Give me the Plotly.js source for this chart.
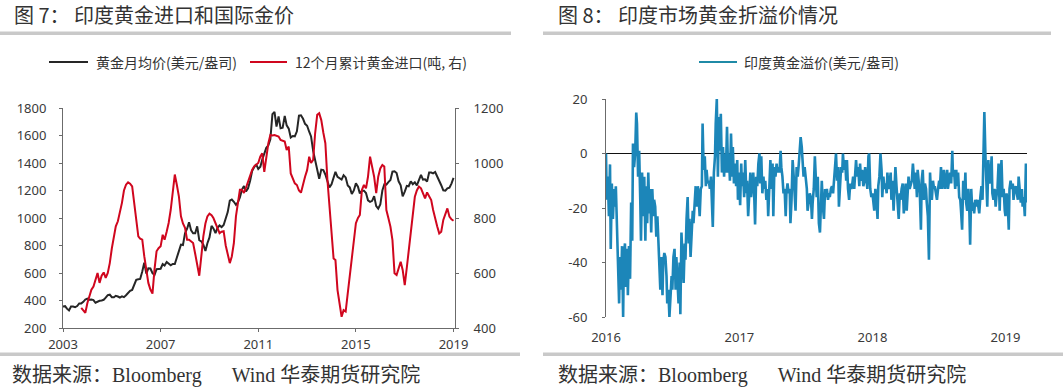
<!DOCTYPE html>
<html><head><meta charset="utf-8">
<script src="https://cdn.plot.ly/plotly-3.0.1.min.js"></script>
<style>html,body{margin:0;padding:0;background:#fff}#chart{width:1063px;height:392px}</style>
</head><body><div id="chart"></div>
<script>
// ---------- data: Fig.7 ----------
const goldStartMonth = '2003-01';
const goldMonthlyAvg = [
356.9,359.0,340.6,328.2,355.7,356.4,351.0,359.8,378.9,378.9,389.9,407.6,
414.0,405.3,406.7,403.3,383.8,392.4,398.1,400.5,405.3,420.5,439.4,442.1,
424.0,423.4,434.2,429.2,421.9,430.7,424.5,437.9,456.0,469.9,476.7,509.8,
549.9,555.0,557.1,610.6,675.4,596.2,633.7,632.6,598.2,585.8,627.8,629.8,
631.2,664.8,654.9,679.4,666.9,655.5,665.3,665.4,712.7,754.6,806.3,803.2,
889.6,922.3,968.4,909.7,888.7,889.5,939.8,839.0,829.9,806.6,760.9,816.1,
858.7,943.2,924.3,890.2,928.6,945.7,934.2,949.4,996.6,1043.2,1127.0,1134.7,
1118.0,1095.4,1113.3,1148.7,1205.4,1232.9,1192.9,1215.8,1271.0,1342.0,1369.9,1390.6,
1356.4,1372.7,1424.0,1473.8,1510.4,1528.7,1572.8,1755.8,1771.9,1665.2,1739.0,1652.3,
1656.1,1742.6,1673.8,1650.1,1585.5,1596.7,1594.3,1630.3,1744.5,1746.6,1721.6,1684.8,
1671.0,1627.6,1592.9,1487.9,1414.0,1343.4,1285.5,1351.7,1348.6,1316.6,1275.9,1221.5,
1244.3,1299.6,1336.1,1299.0,1287.5,1279.1,1310.6,1295.1,1236.6,1222.5,1175.3,1200.6,
1251.8,1227.1,1178.6,1198.9,1198.6,1181.5,1128.3,1117.9,1124.8,1159.3,1086.4,1068.3,
1097.9,1199.5,1245.1,1242.3,1260.9,1276.4,1336.7,1340.2,1326.6,1266.6,1238.4,1157.4,
1192.1,1234.2,1231.1,1266.9,1246.0,1260.3,1236.8,1283.0,1314.1,1279.5,1281.9,1264.5,
1331.3,1330.7,1324.7,1334.8,1303.5,1282.3,1238.5,1201.7,1198.4,1215.4,1220.7,1250.4,
1291.8
];
const importStartMonth = '2003-10';
const indiaImports12m = [
473,462,455,
491,515,539,551,580,600,564,590,602,582,600,636,
690,733,770,788,820,855,900,921,930,925,915,855,
790,733,725,721,661,610,564,540,525,612,679,690,
697,739,721,750,782,830,903,958,920,879,806,780,
764,721,721,715,709,670,636,590,661,733,780,806,
816,810,800,780,758,745,750,752,700,667,636,660,
709,806,860,903,903,891,910,933,955,975,988,993,
1000,1024,1035,968,1030,1072,1102,1100,1102,1098,1096,1084,
1080,1078,1047,1060,962,940,926,920,900,892,926,950,
974,1023,1000,1011,1108,1175,1181,1156,1110,1072,938,850,
768,653,647,538,490,441,465,460,526,590,659,738,
781,800,811,902,920,908,950,1023,985,950,890,950,
980,993,987,829,800,768,720,599,593,620,641,611,
556,620,684,760,817,877,900,914,908,890,871,893,
880,865,830,793,770,744,750,793,815,835,805,795,
790
];
const fig7Years = ['2003','2007','2011','2015','2019'];
const fig7LeftTicks = ['200','400','600','800','1000','1200','1400','1600','1800'];
const fig7RightTicks = ['400','600','800','1000','1200'];
const fig7Names = ['黄金月均价(美元/盎司)', '12个月累计黄金进口(吨, 右)'];

// ---------- data: Fig.8 ----------
const premiumStart = '2016-01-01';
const premiumEnd = '2019-03-01';
const indiaPremium = [
0,-17,-8.5,-23,-4,-35,-11,-24,-13,-19.5,
-12,-28,-36.5,-55,-38,-50,-34,-60,-38,-33,
-49,-35,-52,-34,-46,-18,-32,3.7,-5,0,
15,11,-8.5,1,-17,-32,-7,-23,-8.5,-32,
-12,-25.6,-7,-22,-13,-29,-13,-23,-17,-19.5,
-30.5,-23,-33,-44,-50,-38,-52,-40,-36.5,-38,
-45,-55,-50,-60,-52,-45,-50,-38,-35,-50,
-38,-45,-55,-40,-59,-29,-43,-47.5,-33,-39,
-24,-16,-33,-24,-38,-28,-21,-25.6,-17,-12,
-19.5,-12,-16,-23,-13,-12,11,-6,-1,-12,
-6,-11,-10,-13,-8.5,-16,-27,-7,-1,11,
20,-8.5,13.4,1,14.6,-7,2.4,-8.5,0,-7,
9.8,-7,0,-10,7.3,-8.5,2.4,-11,-3.7,-12,
-2.4,-17,-7,-19,-3.7,-12,-7,-16,-2.4,-14.6,
-10,-23,-12,-7,-16,-12,-7,-17,-26,-8.5,
-12,-3.7,0,-11,-1,-14.6,-8.5,-13,-10,-17,
-13,-23,-10,-2.4,-13,-3.7,-23,-5,-8.5,-3.7,
-7,-5,-7,1,-5,-8.5,-14.6,-13,-23,-14.6,
-11,-14.6,-13,-25.6,-17,-2.4,-8.5,-13,-21,-5,
-8.5,-3.7,0,6,2.4,-5,-8.5,-5,-8.5,-13,
-21,-17,-14.6,-16,-24,
-18,-13,-1,-10,-16,-8.5,-25.6,-29,-17,-10,
-19.5,-24,-13,-16,-13,-17,-14.6,-16,-13,-12,
-14.6,-11,-5,0,-10,-5,-19.5,-10,-5,-7,
0,-6,-2.4,-10,-2.4,-13,-17,-11,-13,-12,
-8.5,-13,-7,-2.4,-8.5,-5,-12,-3.7,-10,-6,
-12,-10,-5,-11,-13,-1,0,-13,-16,-14.6,
-18,-21,-13,-17,-24,-12,-8.5,0,-6,-16,
-8.5,-13,-11,-14.6,-7,-13,-11,-7,-17,-10,
-21,-13,-5,-12,-18,-24,-14.6,-17,-13,-11,
-22,-17,-11,-21,-12,-8.5,-13,-11,-10,-3.7,
-10,-13,-7,-16,-6,-10,-14.6,-28,-10,-6,
-17,-11,-13,-18,-23,-39,-7,-13,-17,-10,
-13,-12,-14.6,-17,-13,-10,-13,-5,-13,-8.5,
-6,-13,-10,-6,-13,-10,-7,-11,1,-8.5,
-6,-13,-6,-12,-7,-16,-17,-21,-28,-10,
-17,-7,-18,-21,-13,-22,-33.5,-13,-21,-18,
-22,-17,-19.5,-17,-21,-22,-16,-12,-17,1,
15.2,-1,-13,-19.5,-2.4,-11,-8.5,-1,-14.6,-17,
-13,-19.5,-16,-13,-3.7,-21,-11,-2.4,-16,-13,
-21,-23,-14.6,-18,-28,-13,-10,-13,-11,-17,
-13,-12,-14.6,-17,-8.5,-13,-18,-13,-19.5,-16,
-23,-3.7,-18
];
const fig8Years = ['2016','2017','2018','2019'];
const fig8YTicks = ['-60','-40','-20','0','20'];
const fig8Name = '印度黄金溢价(美元/盎司)';

// ---------- helpers ----------
function monthSeq(start, n) {
  let [y, m] = start.split('-').map(Number);
  const out = [];
  for (let i = 0; i < n; i++) {
    out.push(y + '-' + String(m).padStart(2, '0') + '-01');
    m++; if (m > 12) { m = 1; y++; }
  }
  return out;
}
function evenDates(start, end, n) {
  const a = Date.parse(start + 'T00:00:00Z'), b = Date.parse(end + 'T00:00:00Z');
  const out = [];
  for (let i = 0; i < n; i++) {
    const d = new Date(a + (b - a) * i / (n - 1));
    out.push(d.toISOString().slice(0, 10));
  }
  return out;
}

const W = 1063, H = 392;
const fx = v => v / W, fy = v => 1 - v / H;

const BLACK = '#262626', RED = '#d0061e', BLUE = '#1c86b9';
const AX = '#6b6b6b';
const tickFont = {family: 'Noto Sans, Lato, sans-serif', size: 13, color: '#3a3a3a'};
const cjk = 'Noto Sans CJK SC, sans-serif';

const traces = [
  {x: monthSeq(goldStartMonth, goldMonthlyAvg.length), y: goldMonthlyAvg, name: fig7Names[0],
   type: 'scatter', mode: 'lines', line: {color: BLACK, width: 2}, xaxis: 'x', yaxis: 'y', showlegend: false},
  {x: monthSeq(importStartMonth, indiaImports12m.length), y: indiaImports12m, name: fig7Names[1],
   type: 'scatter', mode: 'lines', line: {color: RED, width: 2}, xaxis: 'x', yaxis: 'y2', showlegend: false},
  {x: evenDates(premiumStart, premiumEnd, indiaPremium.length), y: indiaPremium, name: fig8Name,
   type: 'scatter', mode: 'lines', line: {color: BLUE, width: 2.6}, xaxis: 'x2', yaxis: 'y3', showlegend: false}
];

const barColor = '#c9c9c9';
const shapes = [
  {type: 'rect', xref: 'paper', yref: 'paper', x0: fx(0), x1: fx(511), y0: fy(35), y1: fy(31.5), fillcolor: barColor, line: {width: 0}},
  {type: 'rect', xref: 'paper', yref: 'paper', x0: fx(543), x1: fx(1051), y0: fy(35), y1: fy(31.5), fillcolor: barColor, line: {width: 0}},
  {type: 'rect', xref: 'paper', yref: 'paper', x0: fx(0), x1: fx(520), y0: fy(356), y1: fy(352.5), fillcolor: barColor, line: {width: 0}},
  {type: 'rect', xref: 'paper', yref: 'paper', x0: fx(543), x1: fx(1063), y0: fy(356), y1: fy(352.5), fillcolor: barColor, line: {width: 0}},
  // legend keys
  {type: 'line', xref: 'paper', yref: 'paper', x0: fx(49), x1: fx(88), y0: fy(62), y1: fy(62), line: {color: BLACK, width: 2}},
  {type: 'line', xref: 'paper', yref: 'paper', x0: fx(250), x1: fx(287), y0: fy(62), y1: fy(62), line: {color: RED, width: 2}},
  {type: 'line', xref: 'paper', yref: 'paper', x0: fx(699), x1: fx(737), y0: fy(62), y1: fy(62), line: {color: '#1f8aa6', width: 2}}
];

const ann = (x, y, text, font, xanchor) => ({xref: 'paper', yref: 'paper', x: fx(x), y: fy(y), text, font,
  showarrow: false, xanchor: xanchor || 'left', yanchor: 'middle'});
const titleFont = {family: cjk, size: 20, color: '#333'};
const footFont = {family: 'Liberation Serif, Noto Sans CJK SC, serif', size: 20, color: '#333'};
const legFont = {family: cjk, size: 14, color: '#333'};
const NB = '\u00a0';
const annotations = [
  ann(12, 15, '图' + NB + '7：' + NB + '印度黄金进口和国际金价', titleFont),
  ann(556, 15, '图' + NB + '8：' + NB + '印度市场黄金折溢价情况', titleFont),
  ann(10, 375, '数据来源：Bloomberg' + NB.repeat(6) + 'Wind' + NB + '华泰期货研究院', footFont),
  ann(556, 375, '数据来源：Bloomberg' + NB.repeat(6) + 'Wind' + NB + '华泰期货研究院', footFont),
  ann(94, 62, fig7Names[0], legFont),
  ann(293, 62, fig7Names[1], legFont),
  ann(742, 62, fig8Name, legFont)
];

const axisCommon = {showgrid: false, zeroline: false, showline: true, linecolor: AX, linewidth: 1,
  ticks: 'outside', ticklen: 3, tickcolor: AX, tickfont: tickFont, fixedrange: true};

const layout = {
  width: W, height: H, margin: {l: 0, r: 0, t: 0, b: 0},
  paper_bgcolor: '#fff', plot_bgcolor: '#fff', showlegend: false,
  xaxis: Object.assign({}, axisCommon, {domain: [fx(63), fx(455)], anchor: 'y', type: 'date',
    range: ['2003-01-01', '2019-01-23'], tickvals: fig7Years.map(y => y + '-01-01'), ticktext: fig7Years,
    ticklabelstandoff: 1}),
  yaxis: Object.assign({}, axisCommon, {domain: [fy(328), fy(108)], anchor: 'x', range: [200, 1800],
    tickvals: fig7LeftTicks.map(Number), ticktext: fig7LeftTicks, ticklabelstandoff: 10}),
  yaxis2: Object.assign({}, axisCommon, {overlaying: 'y', side: 'right', anchor: 'x', range: [400, 1200],
    tickvals: fig7RightTicks.map(Number), ticktext: fig7RightTicks, ticklabelstandoff: 12}),
  xaxis2: Object.assign({}, axisCommon, {domain: [fx(606), fx(1027)], anchor: 'y3', type: 'date',
    range: [premiumStart, premiumEnd], tickvals: fig8Years.map(y => y + '-01-01'), ticktext: fig8Years,
    showline: false, ticks: '', ticklabelstandoff: 11}),
  yaxis3: Object.assign({}, axisCommon, {domain: [fy(317), fy(99)], anchor: 'x2', range: [-60, 20],
    tickvals: fig8YTicks.map(Number), ticktext: fig8YTicks,
    zeroline: true, zerolinecolor: '#111', zerolinewidth: 1.2, ticklabelstandoff: 12}),
  shapes, annotations
};

Plotly.newPlot('chart', traces, layout, {displayModeBar: false, staticPlot: true});
</script>
</body></html>
